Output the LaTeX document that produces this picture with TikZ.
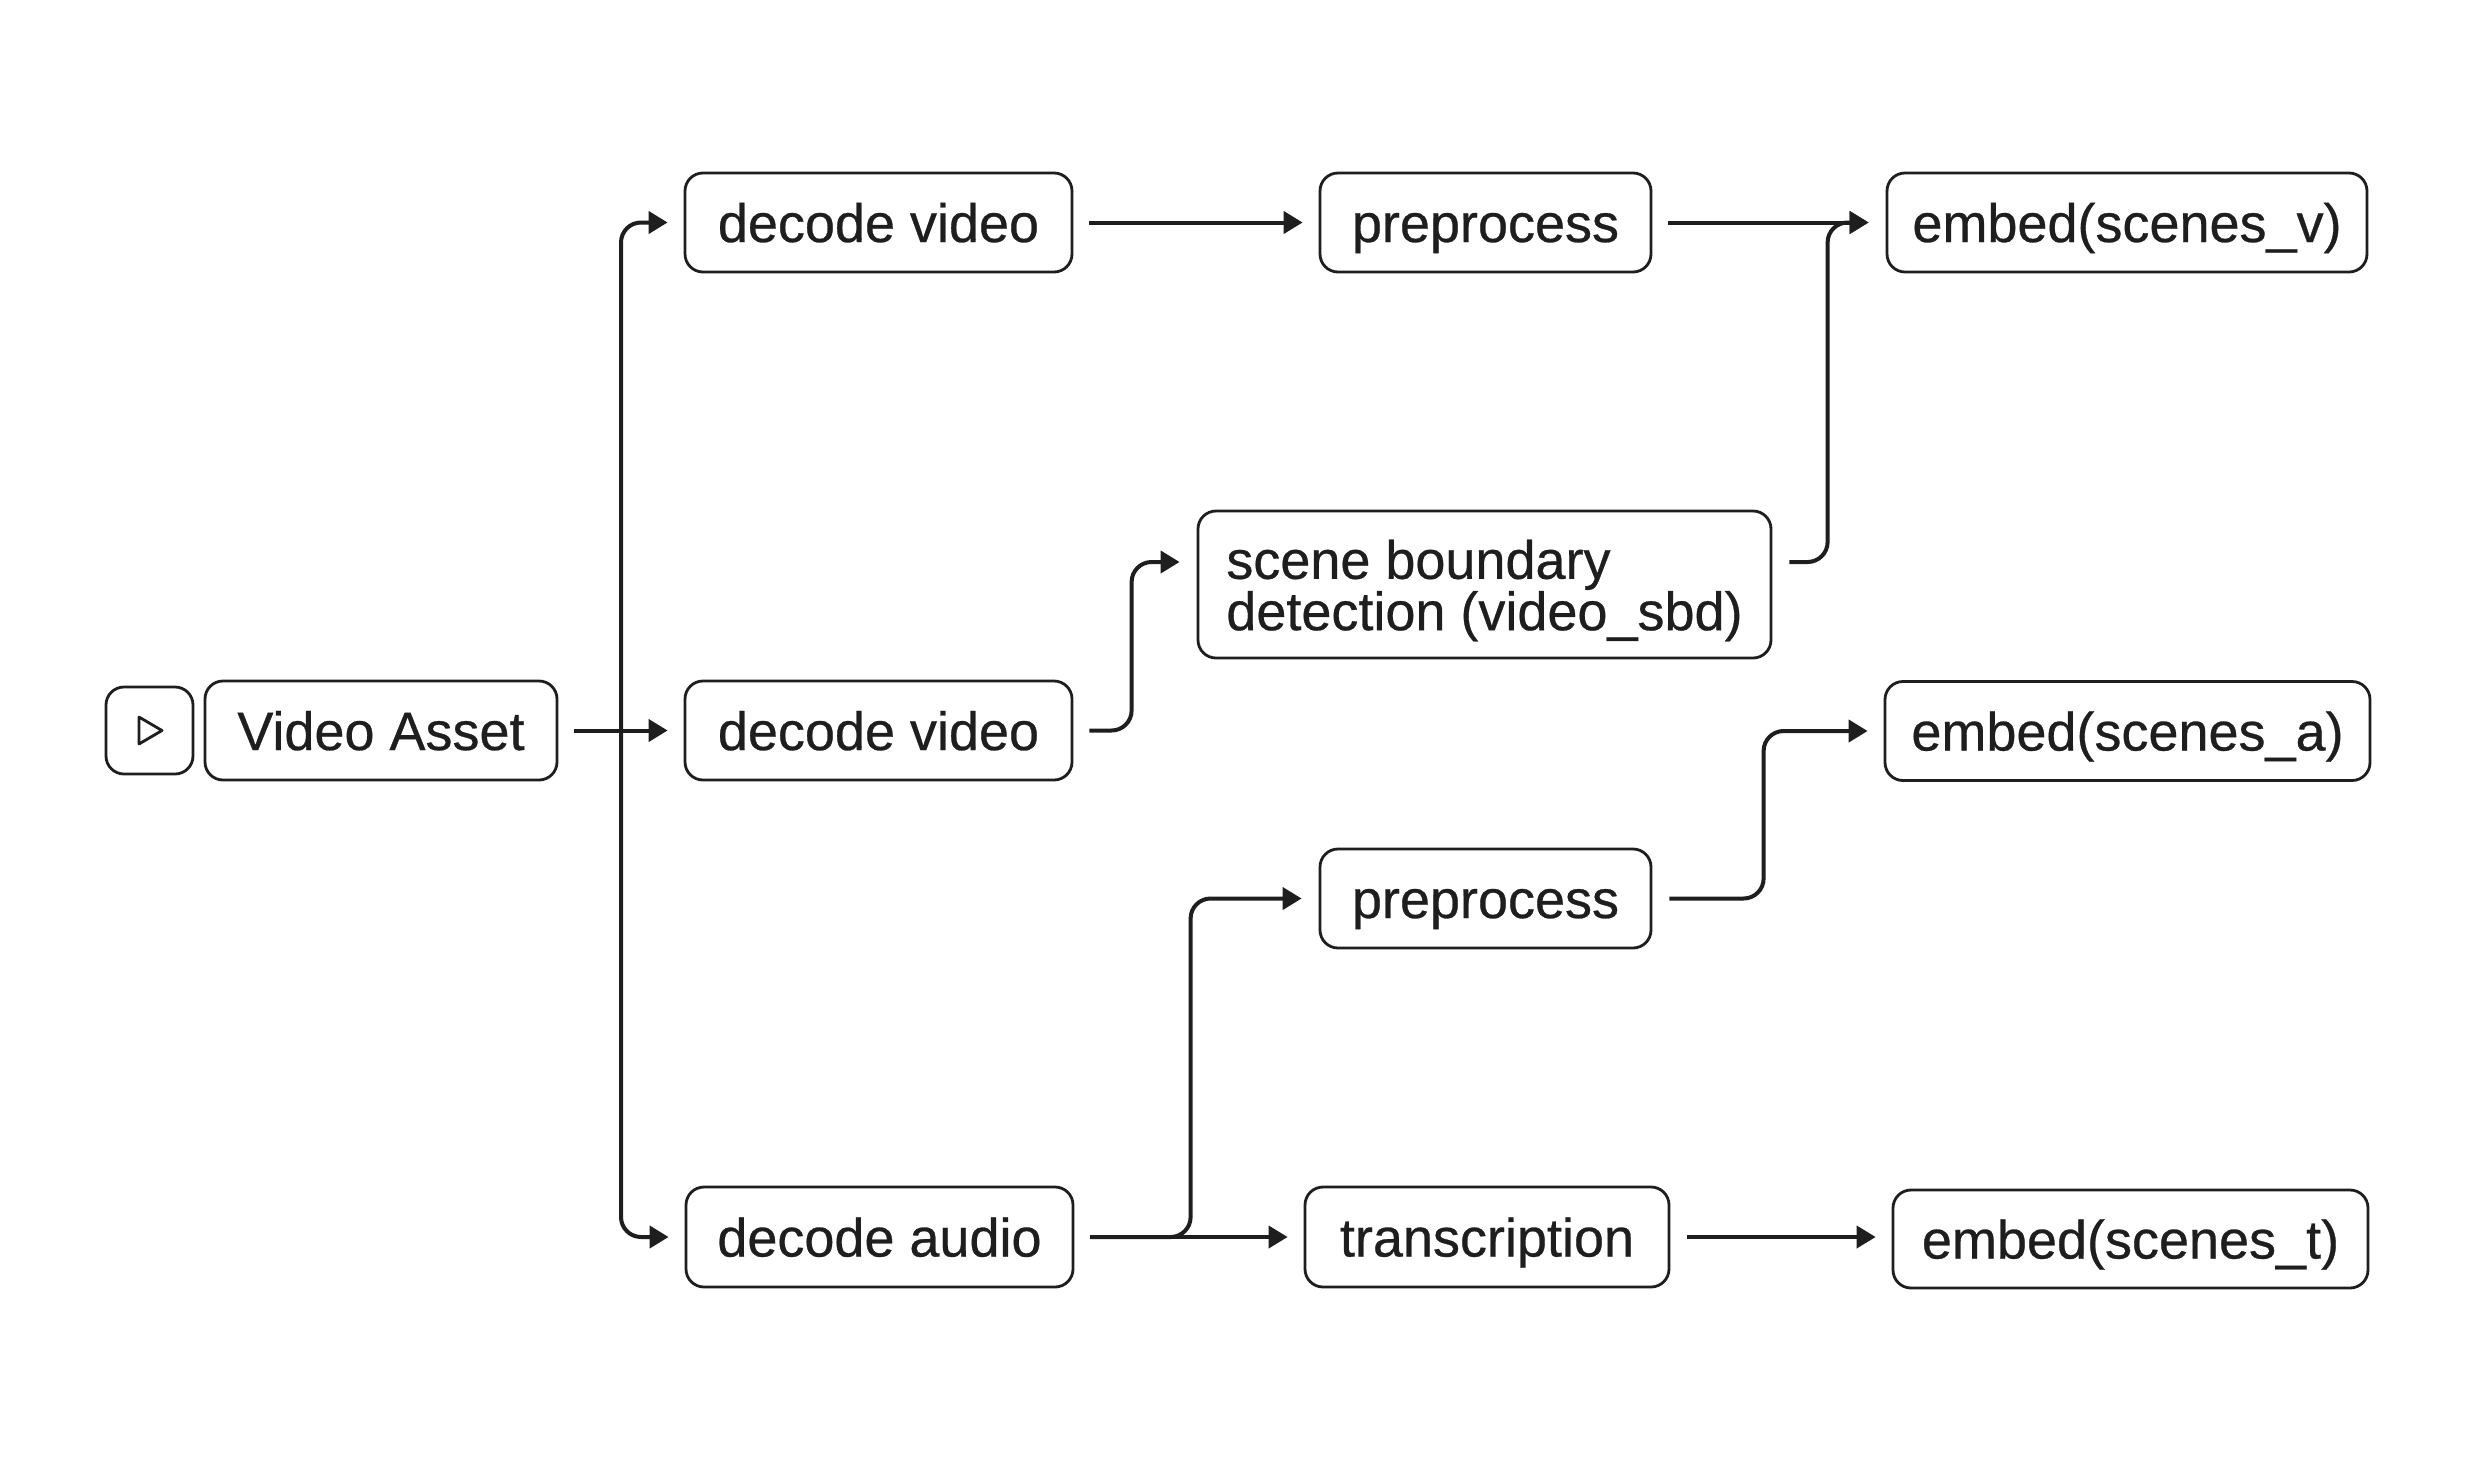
\documentclass[tikz,border=0pt]{standalone}
\usepackage{fontspec}
\setmainfont{Liberation Sans}[FakeBold=0.5]
\usetikzlibrary{arrows.meta,calc}
\definecolor{ink}{RGB}{30,30,30}
\tikzset{
  boxnode/.style={draw=ink, line width=2.8pt, rounded corners=18pt, text=ink,
    font=\fontsize{54}{49}\selectfont, inner sep=0pt, text height=39pt, text depth=0pt},
  conn/.style={draw=ink, line width=4pt, rounded corners=20pt,
    -{Triangle[length=19pt,width=22pt]}},
}
\begin{document}
\begin{tikzpicture}[x=1pt,y=-1pt]
\useasboundingbox (0,0) rectangle (2476,1462);
\fill[white] (0,0) rectangle (2476,1462);

% nodes
\node[boxnode, minimum width=87pt, minimum height=87pt] (play) at (149.5,730.5) {};
\draw[ink, line width=2.8pt, line join=round, shift={(play.center)}]
  (-10.5,-13.5) -- (-10.5,13.5) -- (12.5,0) -- cycle;
\node[boxnode, minimum width=352pt, minimum height=99pt] (va) at (381,730.5) {Video Asset};
\node[boxnode, minimum width=387pt, minimum height=99pt] (dv1) at (878.5,222.5) {decode video};
\node[boxnode, minimum width=387pt, minimum height=99pt] (dv2) at (878.5,730.5) {decode video};
\node[boxnode, minimum width=387pt, minimum height=100pt] (da) at (879.5,1237) {decode audio};
\node[boxnode, minimum width=331pt, minimum height=99pt] (pp1) at (1485.5,222.5) {preprocess};
\node[boxnode, minimum width=573pt, minimum height=147pt] (sbd) at (1484.5,584.5) {};
\node[text=ink, font=\fontsize{54}{49}\selectfont, align=left, inner sep=0pt]
  (sbdtext) at ([yshift=-6pt]sbd.center) {scene boundary\\detection (video\_sbd)};
\node[boxnode, minimum width=331pt, minimum height=99pt] (pp2) at (1485.5,898.5) {preprocess};
\node[boxnode, minimum width=364pt, minimum height=100pt] (tr) at (1487,1237) {transcription};
\node[boxnode, minimum width=480pt, minimum height=99pt] (ev) at (2127,222.5) {embed(scenes\_v)};
\node[boxnode, minimum width=485pt, minimum height=99pt] (ea) at (2127.5,731) {embed(scenes\_a)};
\node[boxnode, minimum width=475pt, minimum height=98pt] (et) at (2130.5,1239) {embed(scenes\_t)};

% ports
\coordinate (trunk) at (621,730.5);
\coordinate (sbdin) at ([xshift=-17pt,yshift=22.5pt]sbd.west);
\coordinate (sbdout) at ([xshift=17pt,yshift=22.5pt]sbd.east);
\coordinate (evin) at ([xshift=-17pt]ev.west);
\coordinate (pp2in) at ([xshift=-17pt]pp2.west);
\coordinate (eain) at ([xshift=-16pt]ea.west);
\coordinate (etin) at ([xshift=-16pt]et.west);
\coordinate (trout) at ([xshift=17pt]tr.east);

% connectors
\draw[conn] ([xshift=16pt]va.east) -- ([xshift=-16pt]dv2.west);
\draw[conn] (trunk) |- ([xshift=-16pt]dv1.west);
\draw[conn] (trunk) |- ([xshift=-16pt]da.west);

\draw[conn] ([xshift=16pt]dv1.east) -- ([xshift=-16pt]pp1.west);
\draw[conn] ([xshift=16pt]pp1.east) -- (evin);
\draw[conn] (sbdout) -| ([xshift=-41pt]evin) -- (evin);

\draw[conn] ([xshift=16pt]dv2.east) -| ([xshift=-48pt]sbdin) -- (sbdin);

\draw[conn] ([xshift=16pt]da.east) -- ([xshift=-16pt]tr.west);
\draw[conn] ([xshift=16pt]da.east) -| ([xshift=-111pt]pp2in) -- (pp2in);
\draw[conn] ([xshift=17pt]pp2.east) -| ([xshift=-104pt]eain) -- (eain);
\draw[conn] (trout) -- (etin |- trout);
\end{tikzpicture}
\end{document}
